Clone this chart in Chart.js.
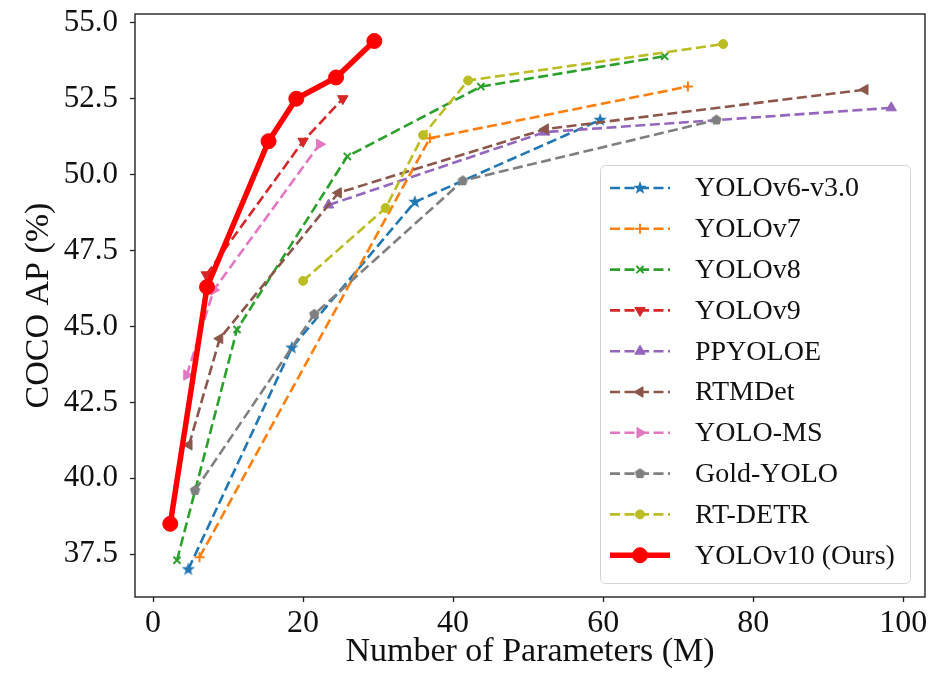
<!DOCTYPE html>
<html>
<head>
<meta charset="utf-8">
<script src="https://cdn.jsdelivr.net/npm/chart.js@4.4.1/dist/chart.umd.min.js"></script>
<style>
  html, body { margin: 0; padding: 0; background: #fff; }
  #chart { display: block; }
</style>
</head>
<body>
<canvas id="chart" width="944" height="679"></canvas>
<script>
// params (M) and COCO AP (%) per model family
const yolov6Params = [4.7, 18.5, 34.9, 59.6];
const yolov6AP = [37.0, 44.3, 49.1, 51.8];
const yolov7Params = [6.2, 36.9, 71.3];
const yolov7AP = [37.4, 51.2, 52.9];
const yolov8Params = [3.2, 11.2, 25.9, 43.7, 68.2];
const yolov8AP = [37.3, 44.9, 50.6, 52.9, 53.9];
const yolov9Params = [7.1, 20.0, 25.3];
const yolov9AP = [46.7, 51.1, 52.5];
const ppyoloeParams = [23.4, 52.2, 98.4];
const ppyoloeAP = [49.0, 51.4, 52.2];
const rtmdetParams = [4.8, 8.9, 24.7, 52.3, 94.9];
const rtmdetAP = [41.1, 44.6, 49.4, 51.5, 52.8];
const yoloMsParams = [4.5, 8.1, 22.2];
const yoloMsAP = [43.4, 46.2, 51.0];
const goldYoloParams = [5.6, 21.5, 41.3, 75.1];
const goldYoloAP = [39.6, 45.4, 49.8, 51.8];
const rtDetrParams = [20, 31, 36, 42, 76];
const rtDetrAP = [46.5, 48.9, 51.3, 53.1, 54.3];
const yolov10Params = [2.3, 7.2, 15.4, 19.1, 24.4, 29.5];
const yolov10AP = [38.5, 46.3, 51.1, 52.5, 53.2, 54.4];

const seriesNames = ['YOLOv6-v3.0', 'YOLOv7', 'YOLOv8', 'YOLOv9', 'PPYOLOE', 'RTMDet', 'YOLO-MS', 'Gold-YOLO', 'RT-DETR', 'YOLOv10 (Ours)'];
const seriesParams = [yolov6Params, yolov7Params, yolov8Params, yolov9Params, ppyoloeParams, rtmdetParams, yoloMsParams, goldYoloParams, rtDetrParams, yolov10Params];
const seriesAP = [yolov6AP, yolov7AP, yolov8AP, yolov9AP, ppyoloeAP, rtmdetAP, yoloMsAP, goldYoloAP, rtDetrAP, yolov10AP];

const xTicks = [0, 20, 40, 60, 80, 100];
const yTicks = [37.5, 40.0, 42.5, 45.0, 47.5, 50.0, 52.5, 55.0];

const SERIF = '"Liberation Serif", "Times New Roman", serif';

// marker images for the styles chart.js lacks (filled star, pentagon)
function markerCanvas(color, size, points, outer, inner) {
	const c = document.createElement('canvas');
	c.width = size;
	c.height = size;
	const g = c.getContext('2d');
	const n = inner ? points * 2 : points;
	g.beginPath();
	for (let i = 0; i < n; i++) {
		const r = inner && i % 2 ? inner : outer;
		const a = -Math.PI / 2 + i * 2 * Math.PI / n;
		const px = size / 2 + r * Math.cos(a), py = size / 2 + r * Math.sin(a);
		i ? g.lineTo(px, py) : g.moveTo(px, py);
	}
	g.closePath();
	g.fillStyle = color;
	g.fill();
	return c;
}

const styles = [
	{color: '#1f77b4', marker: markerCanvas('#1f77b4', 16, 5, 7, 2.9), radius: 6},
	{color: '#ff7f0e', marker: 'cross', radius: 5, bw: 2},
	{color: '#2ca02c', marker: 'crossRot', radius: 5, bw: 2},
	{color: '#d62728', marker: 'triangle', rot: 180, radius: 6},
	{color: '#9467bd', marker: 'triangle', rot: 0, radius: 6},
	{color: '#8c564b', marker: 'triangle', rot: -90, radius: 6},
	{color: '#e377c2', marker: 'triangle', rot: 90, radius: 6},
	{color: '#7f7f7f', marker: markerCanvas('#7f7f7f', 13, 5, 5.5), radius: 5},
	{color: '#bcbd22', marker: 'circle', radius: 4.5},
	{color: '#ff0000', marker: 'circle', radius: 7.5, solid: true}
];

const datasets = seriesNames.map((name, i) => {
	const s = styles[i];
	return {
		label: name,
		data: seriesParams[i].map((x, j) => ({x: x, y: seriesAP[i][j]})),
		borderColor: s.color,
		backgroundColor: s.color,
		borderWidth: s.solid ? 5.5 : 2.6,
		borderDash: s.solid ? [] : [10, 4.5],
		pointStyle: s.marker,
		pointRotation: s.rot || 0,
		pointRadius: s.radius,
		pointBackgroundColor: s.color,
		pointBorderColor: s.color,
		pointBorderWidth: s.bw || 1,
		tension: 0,
		fill: false,
		order: seriesNames.length - i
	};
});

const frame = {
	id: 'frame',
	afterDatasetsDraw(chart) {
		const {ctx, chartArea: a} = chart;
		ctx.save();
		ctx.strokeStyle = '#222';
		ctx.lineWidth = 1.4;
		ctx.strokeRect(a.left, a.top, a.right - a.left, a.bottom - a.top);
		ctx.restore();
	}
};

const insetLegend = {
	id: 'insetLegend',
	afterDraw(chart) {
		const ctx = chart.ctx;
		ctx.save();
		ctx.beginPath();
		ctx.roundRect(600.5, 165.5, 310, 418, 5);
		ctx.fillStyle = 'rgba(255,255,255,0.8)';
		ctx.fill();
		ctx.strokeStyle = '#d4d4d4';
		ctx.lineWidth = 1;
		ctx.stroke();
		chart.data.datasets.forEach((ds, i) => {
			const y = 188 + i * 40.8;
			ctx.setLineDash(ds.borderDash);
			ctx.strokeStyle = ds.borderColor;
			ctx.lineWidth = ds.borderWidth;
			ctx.beginPath();
			ctx.moveTo(610, y);
			ctx.lineTo(670, y);
			ctx.stroke();
			ctx.setLineDash([]);
			ctx.fillStyle = ds.pointBackgroundColor;
			ctx.strokeStyle = ds.pointBorderColor;
			ctx.lineWidth = ds.pointBorderWidth;
			Chart.helpers.drawPoint(ctx, {
				pointStyle: ds.pointStyle,
				rotation: ds.pointRotation,
				radius: ds.pointRadius,
				borderWidth: ds.pointBorderWidth
			}, 640, y);
			ctx.fillStyle = '#111';
			ctx.font = '28px ' + SERIF;
			ctx.textAlign = 'left';
			ctx.textBaseline = 'middle';
			ctx.fillText(ds.label, 695, y + 1);
		});
		ctx.restore();
	}
};

Chart.defaults.font.family = SERIF;
Chart.defaults.color = '#111';

new Chart(document.getElementById('chart'), {
	type: 'line',
	data: {datasets: datasets},
	plugins: [frame, insetLegend],
	options: {
		responsive: false,
		animation: false,
		devicePixelRatio: 1,
		layout: {padding: {top: 14, right: 19, left: 0, bottom: 0}},
		plugins: {
			legend: {display: false},
			tooltip: {enabled: false}
		},
		scales: {
			x: {
				type: 'linear',
				min: -2.4,
				max: 102.9,
				afterBuildTicks: s => { s.ticks = xTicks.map(v => ({value: v})); },
				afterFit: s => { s.height = 82; s.paddingLeft = 0; s.paddingRight = 0; },
				grid: {drawOnChartArea: false, drawTicks: true, tickLength: 5, tickColor: '#222', tickWidth: 1.3},
				border: {display: false},
				ticks: {font: {size: 32, lineHeight: 1.2}, padding: 2, color: '#111', maxRotation: 0, callback: v => String(v)},
				title: {display: true, text: 'Number of Parameters (M)', font: {size: 34, lineHeight: 1.2}, padding: {top: 0, bottom: 7}, color: '#111'}
			},
			y: {
				type: 'linear',
				min: 36.09,
				max: 55.29,
				afterBuildTicks: s => { s.ticks = yTicks.map(v => ({value: v})); },
				afterFit: s => { s.width = 135; s.paddingTop = 0; s.paddingBottom = 0; },
				grid: {drawOnChartArea: false, drawTicks: true, tickLength: 5, tickColor: '#222', tickWidth: 1.3},
				border: {display: false},
				ticks: {font: {size: 31, lineHeight: 1.2}, padding: 12, color: '#111', callback: v => v.toFixed(1)},
				title: {display: true, text: 'COCO AP (%)', font: {size: 34, lineHeight: 1.2}, padding: {top: 19, bottom: 0}, color: '#111'}
			}
		}
	}
});
</script>
</body>
</html>
